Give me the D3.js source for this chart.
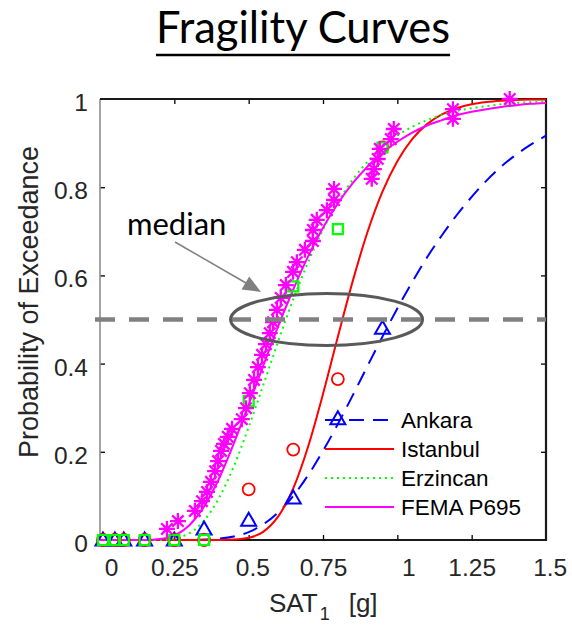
<!DOCTYPE html>
<html>
<head>
<meta charset="utf-8">
<script src="https://cdn.jsdelivr.net/npm/d3@7"></script>
<style>
  body { margin: 0; background: #fff; }
  svg { display: block; }
</style>
</head>
<body>
<svg id="chart" width="572" height="626"></svg>
<script>
// tick labels
var xTicks = [0, 0.25, 0.5, 0.75, 1, 1.25, 1.5];
var yTicks = [0, 0.2, 0.4, 0.6, 0.8, 1];

// observed fractions per intensity level (SaT1 [g])
var sa = [0.01, 0.05, 0.08, 0.15, 0.25, 0.35, 0.5, 0.65, 0.8, 0.95];
var ankaraObs   = [0, 0, 0, 0, 0, 0.025, 0.045, 0.095, 0.275, 0.48];
var istanbulObs = [0, 0, 0, 0, 0, 0, 0.115, 0.205, 0.365, 0.89];
var erzincanObs = [0, 0, 0, 0, 0, 0, 0.315, 0.575, 0.705, 0.89];

// FEMA P695 collapse points (Sa, probability)
var femaSa = [0.225, 0.262, 0.319, 0.343, 0.36, 0.373, 0.387, 0.397, 0.407, 0.417, 0.43, 0.444,
  0.477, 0.491, 0.504, 0.518, 0.531, 0.545, 0.558, 0.571, 0.582, 0.595, 0.608, 0.625, 0.649,
  0.662, 0.689, 0.716, 0.716, 0.729, 0.763, 0.787, 0.787, 0.914, 0.921, 0.934, 0.941, 0.978,
  0.988, 1.187, 1.187, 1.378];
var femaP = [0.025, 0.043, 0.066, 0.088, 0.109, 0.132, 0.156, 0.179, 0.202, 0.218, 0.234, 0.252,
  0.274, 0.299, 0.333, 0.363, 0.392, 0.42, 0.444, 0.469, 0.494, 0.522, 0.549, 0.578, 0.608,
  0.63, 0.658, 0.678, 0.703, 0.726, 0.748, 0.771, 0.796, 0.819, 0.841, 0.864, 0.887, 0.909,
  0.932, 0.955, 0.977, 1.0];

// fitted curves
var curveSa = [0, 0.05, 0.1, 0.15, 0.2, 0.25, 0.3, 0.35, 0.4, 0.45, 0.5, 0.55, 0.6, 0.65, 0.7,
  0.75, 0.8, 0.85, 0.9, 0.95, 1.0, 1.05, 1.1, 1.15, 1.2, 1.25, 1.3, 1.35, 1.4, 1.45, 1.5];
var ankaraFit = [0, 0, 0, 0, 0, 0, 0, 0.001, 0.003, 0.008, 0.018, 0.036, 0.063, 0.1, 0.147,
  0.202, 0.263, 0.328, 0.395, 0.461, 0.525, 0.585, 0.641, 0.691, 0.737, 0.778, 0.815, 0.847,
  0.874, 0.897, 0.917];
var istanbulFit = [0, 0, 0, 0, 0, 0, 0, 0, 0, 0.001, 0.005, 0.019, 0.054, 0.117, 0.212,
  0.331, 0.461, 0.587, 0.699, 0.79, 0.859, 0.909, 0.943, 0.965, 0.979, 0.988, 0.993, 0.996,
  0.998, 0.999, 0.999];
var erzincanFit = [0, 0, 0, 0, 0, 0.004, 0.015, 0.044, 0.095, 0.167, 0.256, 0.353, 0.452,
  0.546, 0.63, 0.704, 0.766, 0.817, 0.858, 0.891, 0.917, 0.937, 0.952, 0.964, 0.973, 0.979,
  0.984, 0.988, 0.991, 0.993, 0.995];
var femaFit = [0, 0, 0, 0, 0.002, 0.01, 0.033, 0.076, 0.139, 0.219, 0.307, 0.397, 0.486, 0.568,
  0.643, 0.708, 0.763, 0.809, 0.847, 0.878, 0.903, 0.924, 0.94, 0.952, 0.963, 0.971, 0.977,
  0.982, 0.986, 0.989, 0.991];

var legendNames = ["Ankara", "Istanbul", "Erzincan", "FEMA P695"];

var svg = d3.select("#chart");
var axisFont = "'Liberation Sans', Arial, Helvetica, sans-serif";
var noteFont = "Lato, 'Open Sans', sans-serif";
var textGrey = "#262626";

var x = d3.scaleLinear().domain([0, 1.5]).range([100, 546]);
var y = d3.scaleLinear().domain([0, 1]).range([540, 99]);

var styles = {
  ankara:   { color: "#0000ff", dash: "15,9" },
  istanbul: { color: "#ff0000", dash: null },
  erzincan: { color: "#00ff00", dash: "2,4" },
  fema:     { color: "#ff00ff", dash: null }
};

// title
var title = svg.append("text")
  .attr("x", 303).attr("y", 43)
  .attr("text-anchor", "middle")
  .style("font-family", noteFont)
  .style("font-size", "43.5px")
  .style("fill", "#000")
  .text("Fragility Curves");
var tb = title.node().getBBox();
svg.append("line")
  .attr("x1", tb.x).attr("x2", tb.x + tb.width)
  .attr("y1", 55).attr("y2", 55)
  .attr("stroke", "#000").attr("stroke-width", 2.5);

// axes (ticks inward, box on)
function styleTicks(g) {
  g.select(".domain").remove();
  g.selectAll(".tick line").attr("stroke", "#000").attr("stroke-width", 1.3);
  g.selectAll(".tick text")
    .style("font-family", axisFont)
    .style("font-size", "24.5px")
    .style("fill", textGrey);
}
var innerX = xTicks.filter(function (d) { return d > 0 && d < 1.5; });
var innerY = yTicks.filter(function (d) { return d > 0 && d < 1; });

var gx = svg.append("g").attr("transform", "translate(0,540)")
  .call(d3.axisBottom(x).tickValues(xTicks).tickSizeInner(-5).tickSizeOuter(0)
    .tickFormat(function (d) { return String(d); }))
  .call(styleTicks);
gx.selectAll(".tick").filter(function (d) { return d <= 0 || d >= 1.5; })
  .select("line").remove();
gx.selectAll(".tick text")
  .attr("y", 36).attr("dy", 0)
  .attr("dx", function (d) { return (4 - String(d).length) * 3.7; });

var gy = svg.append("g").attr("transform", "translate(100,0)")
  .call(d3.axisLeft(y).tickValues(yTicks).tickSizeInner(-5).tickSizeOuter(0)
    .tickFormat(function (d) { return String(d); }))
  .call(styleTicks);
gy.selectAll(".tick").filter(function (d) { return d <= 0 || d >= 1; })
  .select("line").remove();
gy.selectAll(".tick text").attr("x", -12).attr("dy", "0.47em");

svg.append("g").attr("transform", "translate(0,99)")
  .call(d3.axisTop(x).tickValues(innerX).tickSizeInner(-5).tickSizeOuter(0).tickFormat(""))
  .call(styleTicks);
svg.append("g").attr("transform", "translate(546,0)")
  .call(d3.axisRight(y).tickValues(innerY).tickSizeInner(-5).tickSizeOuter(0).tickFormat(""))
  .call(styleTicks);

// frame
svg.append("line").attr("x1", 100).attr("x2", 100).attr("y1", 99).attr("y2", 540)
  .attr("stroke", "#8c8c8c").attr("stroke-width", 1.6);
svg.append("path")
  .attr("d", "M100,99H546V540H100")
  .attr("fill", "none").attr("stroke", "#1a1a1a").attr("stroke-width", 2.2);

// axis titles
svg.append("text")
  .attr("transform", "translate(38,302) rotate(-90)")
  .attr("text-anchor", "middle")
  .style("font-family", axisFont).style("font-size", "27px").style("fill", textGrey)
  .text("Probability of Exceedance");

var xl = svg.append("text")
  .attr("x", 269).attr("y", 612)
  .style("font-family", axisFont).style("font-size", "26px").style("fill", textGrey);
xl.append("tspan").text("SAT");
xl.append("tspan").attr("dx", 2).attr("dy", 8).style("font-size", "18px").text("1");
xl.append("tspan").attr("dx", 19).attr("dy", -8).text("[g]");

// fitted curves
var line = d3.line()
  .x(function (d) { return x(d[0]); })
  .y(function (d) { return y(d[1]); })
  .curve(d3.curveMonotoneX);

function drawCurve(values, st) {
  svg.append("path")
    .datum(curveSa.map(function (s, i) { return [s, values[i]]; }))
    .attr("d", line)
    .attr("fill", "none")
    .attr("stroke", st.color)
    .attr("stroke-width", 2)
    .attr("stroke-dasharray", st.dash);
}
drawCurve(ankaraFit, styles.ankara);
drawCurve(istanbulFit, styles.istanbul);
drawCurve(erzincanFit, styles.erzincan);
drawCurve(femaFit, styles.fema);

// markers
var triPath = "M0,-7.5L7.5,5.5L-7.5,5.5Z";
var sqPath = "M-5,-5H5V5H-5Z";
var starPath = "M-8,0H8M0,-8V8M-5.7,-5.7L5.7,5.7M-5.7,5.7L5.7,-5.7";

function drawMarkers(xs, ys, path, color, width) {
  svg.append("g").selectAll("path")
    .data(xs.map(function (s, i) { return [s, ys[i]]; }))
    .enter().append("path")
    .attr("transform", function (d) { return "translate(" + x(d[0]) + "," + y(d[1]) + ")"; })
    .attr("d", path)
    .attr("fill", "none")
    .attr("stroke", color)
    .attr("stroke-width", width);
}
drawMarkers(sa, ankaraObs, triPath, styles.ankara.color, 2);
svg.append("g").selectAll("circle")
  .data(sa.map(function (s, i) { return [s, istanbulObs[i]]; }))
  .enter().append("circle")
  .attr("cx", function (d) { return x(d[0]); })
  .attr("cy", function (d) { return y(d[1]); })
  .attr("r", 6)
  .attr("fill", "none")
  .attr("stroke", styles.istanbul.color)
  .attr("stroke-width", 1.8);
drawMarkers(sa, erzincanObs, sqPath, styles.erzincan.color, 2.2);
drawMarkers(femaSa, femaP, starPath, styles.fema.color, 2.3);

// median annotation
svg.append("line")
  .attr("x1", 95).attr("x2", 546)
  .attr("y1", y(0.5)).attr("y2", y(0.5))
  .attr("stroke", "#808080").attr("stroke-width", 4.5)
  .attr("stroke-dasharray", "20,14");
svg.append("ellipse")
  .attr("cx", x(0.762)).attr("cy", y(0.5))
  .attr("rx", 96).attr("ry", 26)
  .attr("fill", "none").attr("stroke", "#595959").attr("stroke-width", 3);
svg.append("line")
  .attr("x1", 175).attr("y1", 242).attr("x2", 246).attr("y2", 283)
  .attr("stroke", "#808080").attr("stroke-width", 1.5);
svg.append("path")
  .attr("d", "M261,292L241.6,289.4L249.2,276.4Z")
  .attr("fill", "#808080");
svg.append("text")
  .attr("x", 127).attr("y", 235)
  .style("font-family", noteFont).style("font-size", "31px").style("fill", "#000")
  .text("median");

// legend (lines only)
var legend = svg.append("g");
var legendStyles = [styles.ankara, styles.istanbul, styles.erzincan, styles.fema];
legendNames.forEach(function (name, i) {
  var ly = 420 + i * 29;
  legend.append("line")
    .attr("x1", 325).attr("x2", 394).attr("y1", ly).attr("y2", ly)
    .attr("stroke", legendStyles[i].color).attr("stroke-width", 2)
    .attr("stroke-dasharray", legendStyles[i].dash);
  legend.append("text")
    .attr("x", 401).attr("y", ly + 8)
    .style("font-family", axisFont).style("font-size", "22.5px").style("fill", "#000")
    .text(name);
});
</script>
</body>
</html>
